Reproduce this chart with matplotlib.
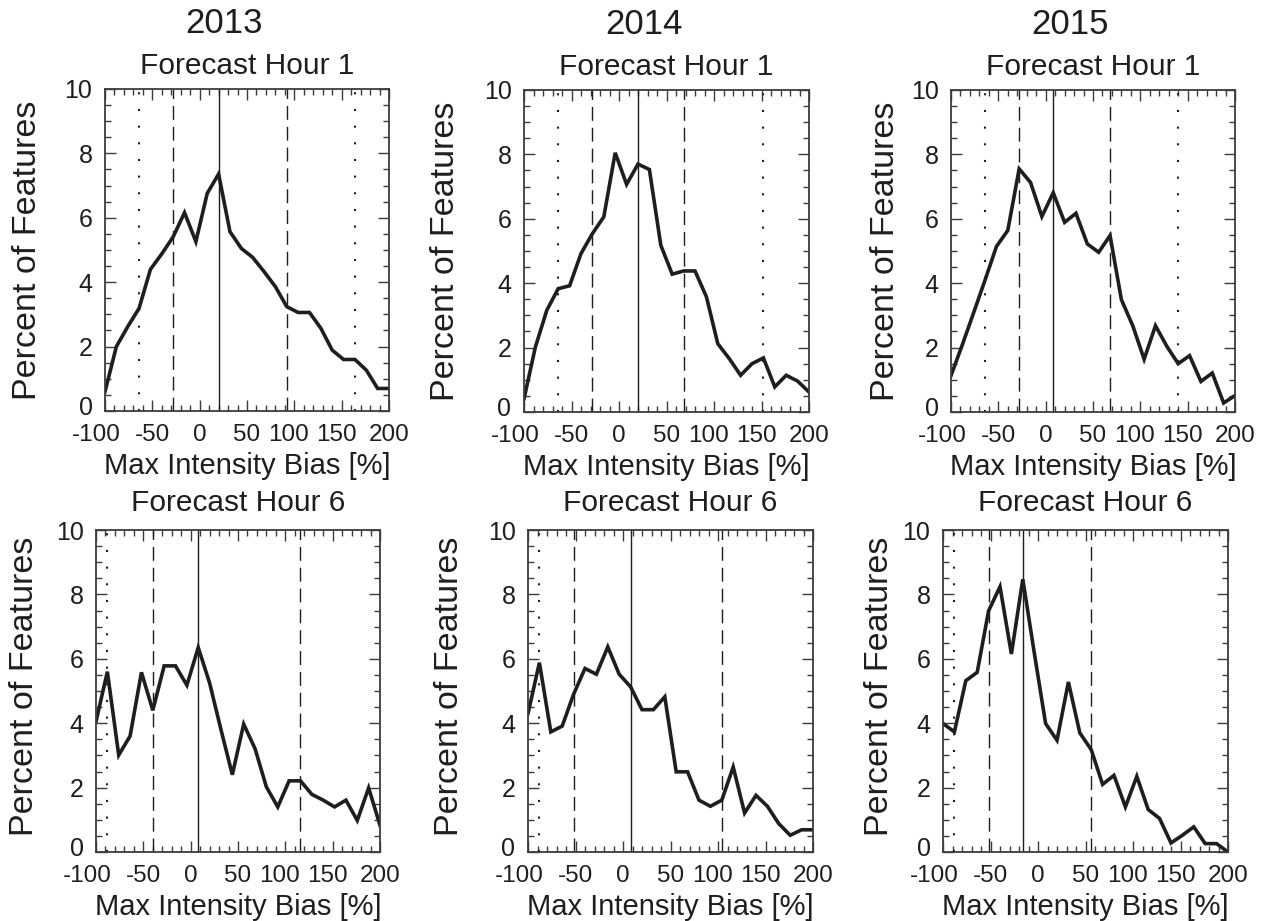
"""Max intensity bias distributions, forecast hours 1 and 6, for 2013-2015."""

import matplotlib
matplotlib.use("Agg")
import matplotlib.pyplot as plt
import matplotlib.transforms as mtransforms
import numpy as np
from matplotlib.ticker import MultipleLocator

plt.rcParams["font.family"] = ["Liberation Sans", "DejaVu Sans"]
plt.rcParams["axes.unicode_minus"] = False

# bin centres (percent bias), 12% bins from -100 to 200
bias_bins = np.arange(-100, 201, 12)

years = ["2013", "2014", "2015"]
forecast_hours = [1, 6]
x_ticks = [-100, -50, 0, 50, 100, 150, 200]
y_ticks = [0, 2, 4, 6, 8, 10]

pct_2013_h1 = [0.60, 2.00, 2.62, 3.19, 4.40, 4.88, 5.41, 6.16, 5.26, 6.76, 7.36, 5.57, 5.05,
               4.77, 4.33, 3.86, 3.24, 3.06, 3.06, 2.57, 1.89, 1.60, 1.60, 1.27, 0.70, 0.70]
pct_2014_h1 = [0.41, 2.02, 3.16, 3.83, 3.92, 4.92, 5.54, 6.06, 8.05, 7.07, 7.70, 7.53, 5.18,
               4.28, 4.38, 4.38, 3.58, 2.12, 1.66, 1.14, 1.50, 1.68, 0.78, 1.14, 0.96, 0.62]
pct_2015_h1 = [1.13, 2.09, 3.09, 4.10, 5.14, 5.64, 7.55, 7.13, 6.07, 6.81, 5.89, 6.17, 5.22,
               4.96, 5.48, 3.49, 2.68, 1.64, 2.68, 2.04, 1.50, 1.75, 0.95, 1.21, 0.28, 0.51]
pct_2013_h6 = [4.05, 5.60, 3.01, 3.60, 5.58, 4.40, 5.78, 5.78, 5.18, 6.35, 5.25, 3.80, 2.40,
               3.97, 3.21, 2.02, 1.40, 2.21, 2.21, 1.79, 1.61, 1.40, 1.61, 0.98, 1.99, 0.83]
pct_2014_h6 = [4.30, 5.88, 3.73, 3.91, 4.90, 5.70, 5.52, 6.37, 5.52, 5.13, 4.42, 4.42, 4.82,
               2.49, 2.49, 1.61, 1.42, 1.61, 2.64, 1.21, 1.76, 1.42, 0.88, 0.52, 0.69, 0.69]
pct_2015_h6 = [3.99, 3.73, 5.32, 5.58, 7.49, 8.24, 6.15, 8.47, 6.20, 3.99, 3.47, 5.28, 3.70,
               3.18, 2.10, 2.38, 1.40, 2.35, 1.32, 1.04, 0.28, 0.52, 0.78, 0.26, 0.26, 0.00]

# reference lines: solid = mode, dashed / dotted = percentile bounds
mode_lines = [[20, 20, 8], [8, 8, -16]]
dashed_lines = [[(-28, 92), (-28, 68), (-28, 68)], [(-40, 116), (-52, 104), (-52, 56)]]
dotted_lines = [[(-64, 164), (-64, 152), (-64, 140)], [(-88,), (-88,), (-88,)]]

series = [[pct_2013_h1, pct_2014_h1, pct_2015_h1],
          [pct_2013_h6, pct_2014_h6, pct_2015_h6]]

W, H = 1267, 921
# axes boxes in pixels: left, right, top, bottom
boxes = [[(105, 389, 89, 411), (524, 809, 90, 412), (951, 1235, 90, 412)],
         [(96, 380, 530, 852), (528, 813, 530, 852), (943, 1228, 530, 852)]]
ylabel_offset = [[-77, -79, -66], [-72, -78, -64]]
ylabel_centre = [0.5, 0.515]
title_gap = [15, 19]

INK = "#1e1e1e"
FRAME = "#3c3c3c"

fig = plt.figure(figsize=(W / 100, H / 100), dpi=100)
# nudges for the crowded tick labels near the lower-left corner (points)
shift_left = mtransforms.ScaledTranslation(-6 / 72, 0, fig.dpi_scale_trans)
shift_mid = mtransforms.ScaledTranslation(-4 / 72, 0, fig.dpi_scale_trans)
shift_up = mtransforms.ScaledTranslation(0, 4 / 72, fig.dpi_scale_trans)

for r, hour in enumerate(forecast_hours):
    for c, year in enumerate(years):
        left, right, top, bottom = boxes[r][c]
        ax = fig.add_axes([left / W, 1 - bottom / H, (right - left) / W, (bottom - top) / H])
        ax_h = bottom - top
        ax_w = right - left

        for x in dotted_lines[r][c]:
            ax.axvline(x, color=INK, lw=1.5, ls=(0, (1, 7)))
        for x in dashed_lines[r][c]:
            ax.axvline(x, color=INK, lw=1.0, ls=(0, (10, 5)))
        ax.axvline(mode_lines[r][c], color=INK, lw=1.0)

        ax.plot(bias_bins, series[r][c], color=INK, lw=2.6, solid_joinstyle="miter")

        ax.set_xlim(-100, 200)
        ax.set_ylim(0, 10)
        ax.set_xticks(x_ticks)
        ax.set_yticks(y_ticks)
        ax.xaxis.set_minor_locator(MultipleLocator(10))
        ax.yaxis.set_minor_locator(MultipleLocator(0.5))
        ax.tick_params(which="both", direction="in", top=True, right=True,
                       color=FRAME, width=1.0)
        ax.tick_params(which="major", length=8)
        ax.tick_params(which="minor", length=4)
        ax.tick_params(axis="x", labelsize=17.5, pad=9, labelcolor=INK)
        ax.tick_params(axis="y", labelsize=18, pad=9, labelcolor=INK)
        for spine in ax.spines.values():
            spine.set_color(FRAME)
            spine.set_linewidth(1.3)

        labels = ax.get_xticklabels()
        labels[0].set_transform(labels[0].get_transform() + shift_left)
        for lab in labels[4:6]:
            lab.set_transform(lab.get_transform() + shift_mid)
        zero = ax.get_yticklabels()[0]
        zero.set_transform(zero.get_transform() + shift_up)

        ax.set_xlabel("Max Intensity Bias [%]", fontsize=21, color=INK, va="baseline")
        ax.xaxis.set_label_coords(0.5, -63 / ax_h)
        ax.set_ylabel("Percent of Features", fontsize=24.5, color=INK, va="center")
        ax.yaxis.set_label_coords(ylabel_offset[r][c] / ax_w, ylabel_centre[r])

        ax.text(0.5, 1 + title_gap[r] / ax_h, f"Forecast Hour {hour}",
                transform=ax.transAxes, ha="center", va="baseline", fontsize=21.5, color=INK)
        if r == 0:
            ax.text(0.42, 1 + 56 / ax_h, year, transform=ax.transAxes,
                    ha="center", va="baseline", fontsize=25, color=INK)

fig.savefig("out.png", dpi=100)
